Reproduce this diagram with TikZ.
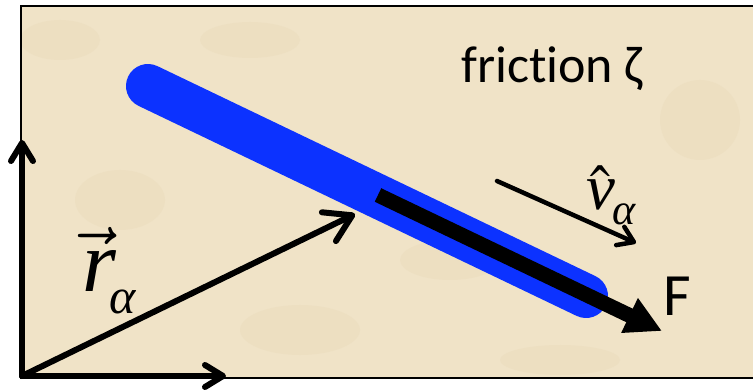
\documentclass[tikz,border=0pt]{standalone}
\usepackage{mathptmx}
\usepackage{fontspec}
\newfontfamily\calib[Ligatures=NoCommon]{Carlito}
\newfontfamily\tnr{Liberation Serif}
\usetikzlibrary{arrows.meta}
\definecolor{parch}{RGB}{240,227,199}
\definecolor{parchdark}{RGB}{226,208,170}
\definecolor{rodblue}{RGB}{12,50,255}
\tikzset{
  vecarrow/.style={line width=6pt, line cap=round, -{Straight Barb[length=26pt,width=32pt,round]}},
  axisarrow/.style={line width=6pt, line cap=round, -{Straight Barb[length=18pt,width=22pt,round]}},
  velarrow/.style={line width=4.5pt, line cap=round, -{Straight Barb[length=15pt,width=20pt,round]}},
  forcearrow/.style={line width=15pt, -{Triangle[length=36pt,width=36pt]}},
  rod/.style={rodblue, line width=44pt, line cap=round},
  calibtext/.style={anchor=base west, inner sep=0pt, font=\calib\fontsize{#1}{#1}\selectfont},
  mathtext/.style={anchor=base west, inner sep=0pt, font=\fontsize{#1}{#1}\selectfont}
}
\begin{document}
\begin{tikzpicture}[x=1pt,y=-1pt]
\useasboundingbox (0,0) rectangle (753,390);
\fill[white] (0,0) rectangle (753,390);
\fill[parch] (21,6) rectangle (753,378);
% faint texture blotches
\begin{scope}[opacity=0.18]
\fill[parchdark] (60,40) ellipse (40 and 20);
\fill[parchdark] (300,330) ellipse (60 and 25);
\fill[parchdark] (700,120) ellipse (40 and 40);
\fill[parchdark] (450,260) ellipse (50 and 20);
\fill[parchdark] (250,40) ellipse (50 and 18);
\fill[parchdark] (120,200) ellipse (45 and 30);
\fill[parchdark] (560,360) ellipse (60 and 15);
\end{scope}
\draw[line width=2pt] (753,6) -- (21,6) -- (21,378) -- (753,378);
% coordinates
\coordinate (O) at (22,376);
\coordinate (ytip) at (22,140);
\coordinate (xtip) at (226,376);
\coordinate (rtip) at (355,214);
\coordinate (rodA) at (148,86);
\coordinate (rodB) at (586,296);
\coordinate (Fs) at (378,195);
\coordinate (Ft) at (662,331);
\coordinate (vs) at (497,181);
\coordinate (ve) at (636,243);
% rod
\draw[rod] (rodA) -- (rodB);
% force
\draw[forcearrow] (Fs) -- (Ft);
% position vector and axes
\draw[vecarrow] (O) -- (rtip);
\draw[axisarrow] (O) -- (ytip);
\draw[axisarrow] (O) -- (xtip);
% velocity direction
\draw[velarrow] (vs) -- (ve);
% labels
\node[calibtext=52] (fric) at (461,83) {friction ζ};
\node[calibtext=60] (Flab) at (663,316) {F};
\node[mathtext=87] (rlab) at (82,292) {$\vec{\mbox{\tnr\itshape r}}$\kern-7pt\raisebox{-21pt}{\tnr\itshape\fontsize{50}{50}\selectfont α}};
\node[mathtext=65] (vlab) at (586,210) {$\hat{\mbox{\tnr\itshape v}}$\kern-3pt\raisebox{-15pt}{\tnr\itshape\fontsize{44}{44}\selectfont α}};
\end{tikzpicture}
\end{document}
